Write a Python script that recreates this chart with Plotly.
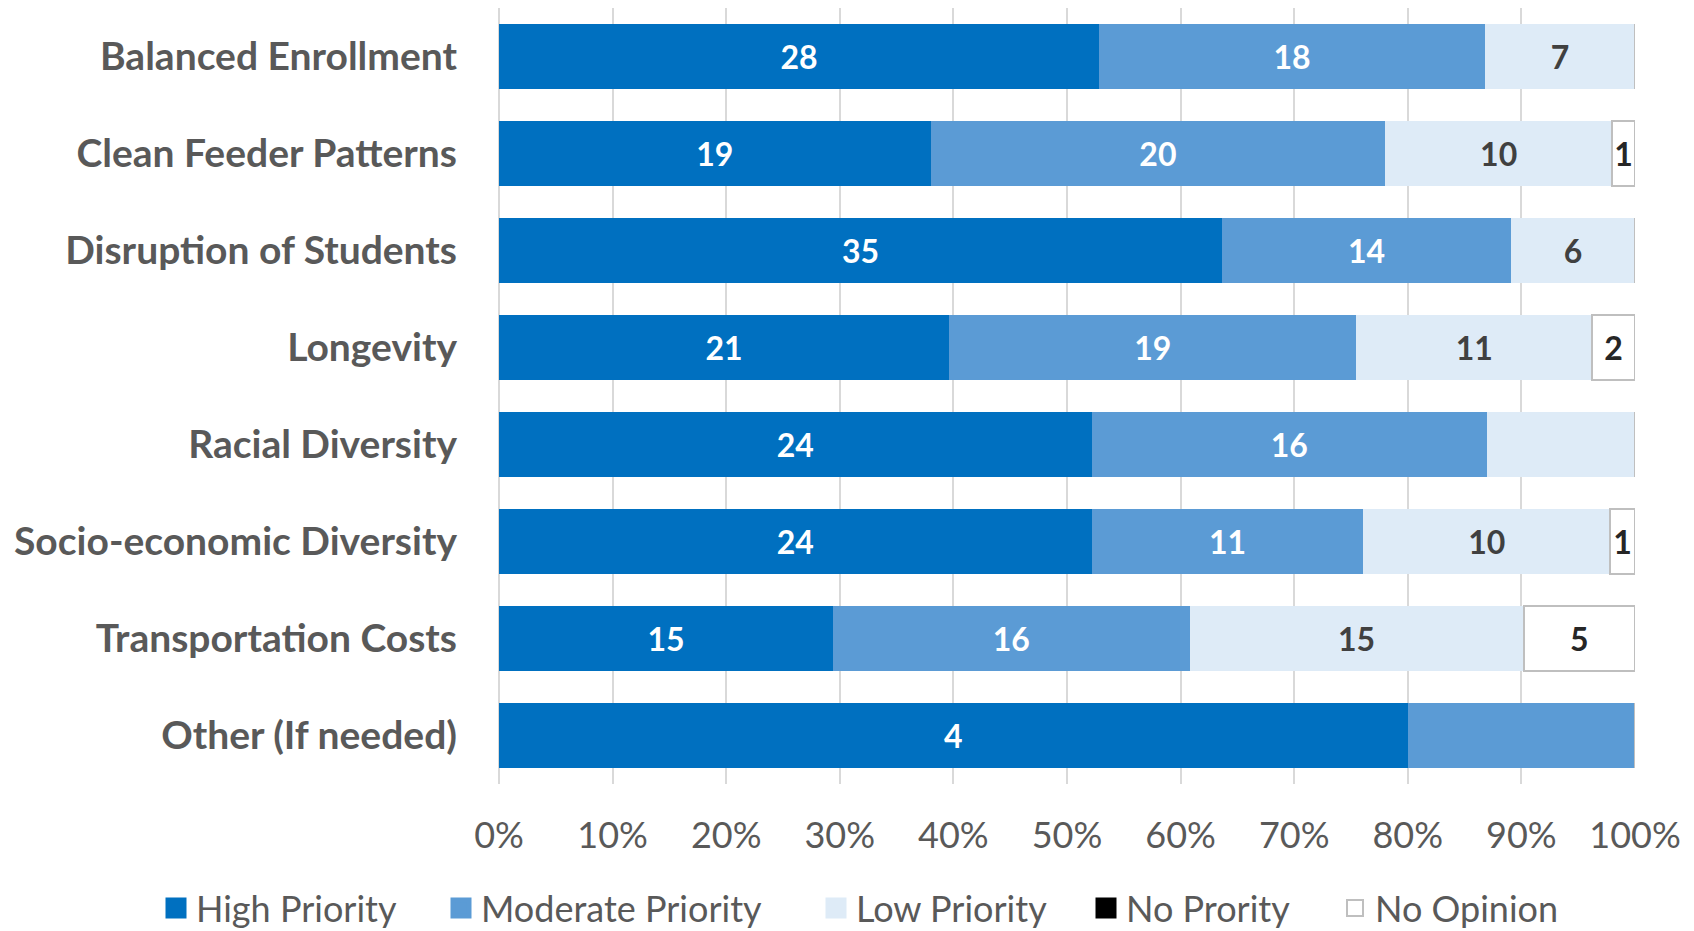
import plotly.graph_objects as go

categories = ["Balanced Enrollment", "Clean Feeder Patterns", "Disruption of Students",
              "Longevity", "Racial Diversity", "Socio-economic Diversity",
              "Transportation Costs", "Other (If needed)"]
high = [28, 19, 35, 21, 24, 24, 15, 4]
moderate = [18, 20, 14, 19, 16, 11, 16, 1]
low = [7, 10, 6, 11, 6, 10, 15, 0]
no_priority = [0, 0, 0, 0, 0, 0, 0, 0]
no_opinion = [0, 1, 0, 2, 0, 1, 5, 0]
# labels hidden in the original for these segments
hidden = {("Moderate Priority", "Other (If needed)"), ("Low Priority", "Racial Diversity")}
tick_vals = [0, 0.1, 0.2, 0.3, 0.4, 0.5, 0.6, 0.7, 0.8, 0.9, 1.0]
tick_text = ["0%", "10%", "20%", "30%", "40%", "50%", "60%", "70%", "80%", "90%", "100%"]

series = [
    ("High Priority", high, "#0070C0", "#0070C0", 0, "white"),
    ("Moderate Priority", moderate, "#5B9BD5", "#5B9BD5", 0, "white"),
    ("Low Priority", low, "#DEEBF7", "#DEEBF7", 0, "#404040"),
    ("No Prority", no_priority, "#000000", "#000000", 0, "#404040"),
    ("No Opinion", no_opinion, "#FFFFFF", "#BFBFBF", 2, "#262626"),
]

FONT = "Lato"
GRAY = "#595959"

fig = go.Figure()
for name, vals, fill, lc, lw, tc in series:
    txt = ["" if (v == 0 or (name, c) in hidden) else str(v) for v, c in zip(vals, categories)]
    fig.add_trace(go.Bar(
        y=categories, x=vals, name=name, orientation="h",
        marker=dict(color=fill, line=dict(color=lc, width=lw)),
        text=txt, textposition="inside", insidetextanchor="middle", textangle=0,
        textfont=dict(family=FONT, size=32, color=tc, weight="bold"),
        showlegend=False, hoverinfo="skip",
    ))

# legend entries
legend_x_px = [148, 433, 808, 1078, 1327]
for i, (name, vals, fill, lc, lw, tc) in enumerate(series):
    lname = "legend" if i == 0 else f"legend{i+1}"
    if lw:
        mk = dict(symbol="square", size=16, color=fill, line=dict(color=lc, width=2))
    else:
        mk = dict(symbol="square", size=16, color=fill, line=dict(color=fill, width=5))
    fig.add_trace(go.Scatter(
        x=[None], y=[None], mode="markers", name=name, legend=lname, marker=mk,
    ))

L, R = 491, 1627
T, B = 0, 776
legend_layout = {}
for i, px in enumerate(legend_x_px):
    key = "legend" if i == 0 else f"legend{i+1}"
    legend_layout[key] = dict(
        x=(px - L) / (R - L), xanchor="left", y=(B - 900) / (B - T), yanchor="middle",
        orientation="h", bgcolor="rgba(0,0,0,0)", borderwidth=0,
        font=dict(family=FONT, size=36, color=GRAY), itemsizing="trace",
    )

fig.update_layout(
    width=1694, height=931,
    margin=dict(l=L, r=1694 - R, t=T, b=931 - B, autoexpand=False),
    barmode="stack", barnorm="fraction", bargap=0.33,
    plot_bgcolor="white", paper_bgcolor="white",
    uniformtext=dict(minsize=32, mode="show"),
    **legend_layout,
)
fig.update_xaxes(
    range=[0, 1], tickvals=tick_vals, ticktext=tick_text,
    showgrid=True, gridcolor="#D9D9D9", gridwidth=2,
    zeroline=True, zerolinecolor="#D9D9D9", zerolinewidth=2,
    showline=False, ticks="", ticklabelstandoff=27,
    tickfont=dict(family=FONT, size=36, color=GRAY), fixedrange=True,
)
fig.update_yaxes(
    autorange="reversed", showgrid=False, zeroline=False, showline=False,
    ticks="", ticklabelstandoff=41,
    tickfont=dict(family=FONT, size=39, color=GRAY, weight="bold"), fixedrange=True,
)
fig.write_html("out.html")
